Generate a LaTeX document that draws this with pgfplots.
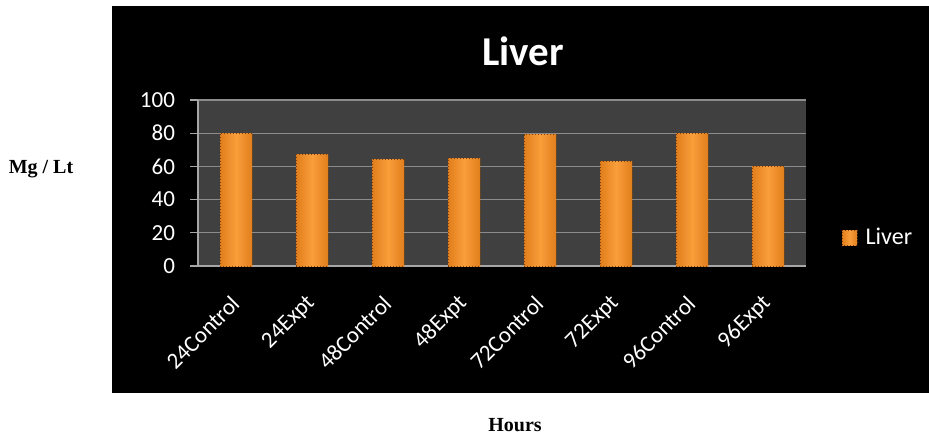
\documentclass[border=0pt]{standalone}
\usepackage{fontspec}
\setmainfont{Carlito}
\newfontfamily\timesb{Liberation Serif}
\usepackage{pgfplots}
\pgfplotsset{compat=1.18}
\definecolor{plotbg}{HTML}{404040}
\definecolor{gridc}{HTML}{8C8C8C}
\definecolor{axc}{HTML}{A6A6A6}
\definecolor{barL}{HTML}{F99E3A}
\definecolor{barD}{HTML}{E07E1C}
\definecolor{barE}{HTML}{7A3F05}
\pgfplotsset{livbar/.style={ybar, bar width=16pt, bar shift=0pt,
  left color=barD, right color=barD, middle color=barL,
  draw=barE, densely dotted, line width=0.5pt}}
\begin{document}
\begin{tikzpicture}
\useasboundingbox (0pt,0pt) rectangle (464.5pt,-217pt);
\fill[white] (0pt,0pt) rectangle (464.5pt,-217pt);
\fill[black] (56pt,-3pt) rectangle (464.5pt,-196.5pt);
\begin{axis}[
  at={(99pt,-133pt)}, anchor=south west,
  scale only axis, width=304pt, height=83pt,
  xmin=-0.5, xmax=7.5, ymin=0, ymax=100,
  ytick={0,20,...,100},
  xtick={0,...,7},
  xticklabels={24Control,24Expt,48Control,48Expt,72Control,72Expt,96Control,96Expt},
  major x tick style={draw=none},
  extra x ticks={-0.5,0.5,...,7.5},
  extra x tick labels={},
  extra x tick style={grid=none, tick style={draw=axc, line width=0.6pt}},
  axis x line*=bottom, axis y line*=left,
  axis line style={draw=axc, line width=0.8pt},
  tick align=outside, major tick length=4pt,
  y tick style={draw=axc, line width=0.6pt},
  ymajorgrids, grid style={draw=gridc, line width=0.6pt},
  axis background/.style={fill=plotbg},
  tick label style={font=\fontsize{11.5}{13}\selectfont, text=white},
  /pgf/number format/assume math mode=true,
  yticklabel style={xshift=-4pt},
  xticklabel style={rotate=45, anchor=east, xshift=3pt},
  xticklabel shift=12.5pt,
  legend style={at={(1.058,0.169)}, anchor=west, draw=none, fill=none,
    text=white, font=\fontsize{12}{14}\selectfont, inner sep=0pt,
    nodes={inner xsep=4pt}},
  legend image code/.code={\fill[left color=barD, right color=barD, middle color=barL, draw=barE, densely dotted, line width=0.5pt] (0pt,-3.75pt) rectangle (7.5pt,3.75pt);},
]
\addplot[livbar] coordinates {(0,80)};
\addlegendentry{Liver}
\addplot[livbar, forget plot] coordinates {(1,67)};
\addplot[livbar, forget plot] coordinates {(2,64)};
\addplot[livbar, forget plot] coordinates {(3,65)};
\addplot[livbar, forget plot] coordinates {(4,79)};
\addplot[livbar, forget plot] coordinates {(5,63)};
\addplot[livbar, forget plot] coordinates {(6,80)};
\addplot[livbar, forget plot] coordinates {(7,60)};
\end{axis}
\node[text=white, font=\fontsize{20.5}{24}\selectfont\bfseries] at (261.5pt,-25.5pt) {Liver};
\node[font=\timesb\fontsize{10}{12}\selectfont\bfseries] at (20.5pt,-84.5pt) {Mg / Lt};
\node[font=\timesb\fontsize{10}{12}\selectfont\bfseries] at (257.5pt,-212.5pt) {Hours};
\end{tikzpicture}
\end{document}
